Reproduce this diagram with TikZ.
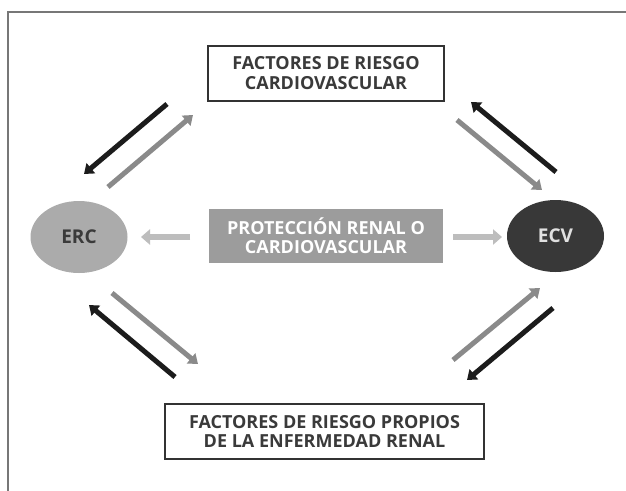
\documentclass[tikz,border=0pt]{standalone}
\usepackage{fontspec}
\setmainfont{Open Sans}
\usetikzlibrary{arrows.meta,shapes.geometric}
\definecolor{frameC}{HTML}{777777}
\definecolor{boxline}{HTML}{333333}
\definecolor{txt}{HTML}{3A3A3A}
\definecolor{ercfill}{HTML}{ABABAB}
\definecolor{ecvfill}{HTML}{383838}
\definecolor{midfill}{HTML}{9C9C9C}
\definecolor{sidearrow}{HTML}{BDBDBD}
\definecolor{grayarrow}{HTML}{8A8A8A}
\definecolor{darkarrow}{HTML}{1C1C1C}
\tikzset{
  labelbox/.style={draw=boxline, line width=1.8pt, fill=white, minimum width=236pt, minimum height=55pt, align=center, font=\fontsize{18}{20}\selectfont\bfseries, text=txt, inner sep=0pt},
  ellnode/.style={ellipse, minimum width=97pt, minimum height=72pt, inner sep=0pt, font=\fontsize{19}{20}\selectfont\bfseries},
  diag/.style={line width=5pt, -{Triangle[length=9pt,width=13pt]}},
  grayd/.style={diag, draw=grayarrow},
  darkd/.style={diag, draw=darkarrow},
  sidea/.style={line width=6pt, draw=sidearrow, -{Triangle[length=9pt,width=15pt]}}
}
\begin{document}
\begin{tikzpicture}[x=1pt,y=-1pt]
\useasboundingbox (0,0) rectangle (626,490);
\fill[white] (0,0) rectangle (626,490);
% frame
\draw[frameC, line width=2.5pt] (8,494) -- (8,12) -- (630,12);
% nodes
\node[labelbox] (top) at (326,73.5) {FACTORES DE RIESGO\\CARDIOVASCULAR};
\node[labelbox, minimum width=319pt, font=\fontsize{18}{18.5}\selectfont\bfseries] (bot) at (324.5,431.5) {FACTORES DE RIESGO PROPIOS\\DE LA ENFERMEDAD RENAL};
\node[labelbox, draw=none, fill=midfill, text=white, minimum width=234pt, minimum height=54pt, font=\fontsize{18}{19}\selectfont\bfseries] (mid) at (326,236) {PROTECCIÓN RENAL O\\CARDIOVASCULAR};
\node[ellnode, fill=ercfill, text=txt] (erc) at (79,237) {ERC};
\node[ellnode, fill=ecvfill, text=white!88!black] (ecv) at (555.5,236) {ECV};
% arrow end points
\coordinate (ml) at (190,237);
\coordinate (mle) at (141,237);
\coordinate (mr) at (453,237);
\coordinate (mre) at (502,237);
\coordinate (tlk1) at (167,104);  \coordinate (tlk2) at (84,174);
\coordinate (tlg1) at (108,187);  \coordinate (tlg2) at (193,115);
\coordinate (trk1) at (556,172);  \coordinate (trk2) at (471,102);
\coordinate (trg1) at (457,120);  \coordinate (trg2) at (542,190);
\coordinate (blg1) at (112,293);  \coordinate (blg2) at (198,364);
\coordinate (blk1) at (175,377);  \coordinate (blk2) at (89,305);
\coordinate (brg1) at (453,360);  \coordinate (brg2) at (540,288);
\coordinate (brk1) at (553,308);  \coordinate (brk2) at (467,380);
% horizontal arrows
\draw[sidea] (ml) -- (mle);
\draw[sidea] (mr) -- (mre);
% diagonal arrows
\draw[darkd] (tlk1) -- (tlk2);
\draw[grayd] (tlg1) -- (tlg2);
\draw[darkd] (trk1) -- (trk2);
\draw[grayd] (trg1) -- (trg2);
\draw[grayd] (blg1) -- (blg2);
\draw[darkd] (blk1) -- (blk2);
\draw[grayd] (brg1) -- (brg2);
\draw[darkd] (brk1) -- (brk2);
\end{tikzpicture}
\end{document}
